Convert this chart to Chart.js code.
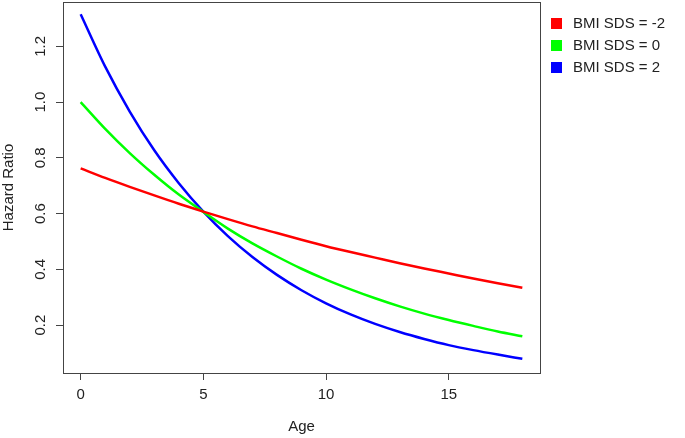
<!DOCTYPE html>
<html>
<head>
<meta charset="utf-8">
<script src="https://cdn.jsdelivr.net/npm/chart.js@4.4.0/dist/chart.umd.min.js"></script>
<style>
  html, body { margin: 0; padding: 0; background: #fff; }
  #wrap { position: relative; width: 685px; height: 438px; }
  #legend { position: absolute; left: 551px; top: 14px; font: 15px "Liberation Sans", Arial, sans-serif; color: #222; }
  #legend div { height: 22px; line-height: 18px; white-space: nowrap; }
  #legend span { display: inline-block; width: 11px; height: 11px; margin-right: 11px; vertical-align: -1px; }
</style>
</head>
<body>
<div id="wrap">
  <canvas id="chart" width="685" height="438"></canvas>
  <div id="legend"></div>
</div>
<script>
// values, one per year of age
const AGES = [0, 1, 2, 3, 4, 5, 6, 7, 8, 9, 10, 11, 12, 13, 14, 15, 16, 17, 18];
const HR_SDS_NEG2 = [0.762, 0.728, 0.696, 0.665, 0.635, 0.607, 0.580, 0.554, 0.530, 0.506, 0.483, 0.462, 0.442, 0.422, 0.403, 0.385, 0.367, 0.350, 0.334];
const HR_SDS_0 = [1.000, 0.904, 0.817, 0.739, 0.668, 0.606, 0.546, 0.493, 0.446, 0.402, 0.363, 0.328, 0.296, 0.267, 0.241, 0.218, 0.197, 0.177, 0.160];
const HR_SDS_2 = [1.315, 1.127, 0.966, 0.827, 0.709, 0.607, 0.519, 0.444, 0.380, 0.325, 0.278, 0.238, 0.204, 0.175, 0.150, 0.128, 0.110, 0.094, 0.079];
const SERIES_LABELS = ['BMI SDS = -2', 'BMI SDS = 0', 'BMI SDS = 2'];
const SERIES_COLORS = ['#ff0000', '#00ff00', '#0000ff'];
const X_TICKS = [0, 5, 10, 15];
const Y_TICKS = [0.2, 0.4, 0.6, 0.8, 1.0, 1.2];

const FONT = { family: '"Liberation Sans", Arial, sans-serif', size: 15 };
const AXIS = '#444';
const TEXT = '#222';

const datasets = [HR_SDS_NEG2, HR_SDS_0, HR_SDS_2].map((vals, i) => ({
  label: SERIES_LABELS[i],
  data: AGES.map((a, j) => ({ x: a, y: vals[j] })),
  borderColor: SERIES_COLORS[i],
  backgroundColor: SERIES_COLORS[i],
  borderWidth: 2.5,
  pointRadius: 0,
  cubicInterpolationMode: 'monotone',
  fill: false,
}));

// R draws a full box around the plot region
const boxPlugin = {
  id: 'box',
  afterDraw(chart) {
    const { ctx, chartArea: a } = chart;
    ctx.save();
    ctx.strokeStyle = AXIS;
    ctx.lineWidth = 1;
    ctx.strokeRect(a.left + 0.5, a.top + 0.5, a.right - a.left, a.bottom - a.top);
    ctx.restore();
  },
};

// drop the extra room Chart.js keeps for end labels, so the plot box sits where R puts it
function noLabelPadding(s) {
  s.paddingTop = 0;
  s.paddingBottom = 0;
  s.paddingLeft = 0;
  s.paddingRight = 0;
}

new Chart(document.getElementById('chart'), {
  type: 'line',
  data: { datasets },
  plugins: [boxPlugin],
  options: {
    responsive: false,
    animation: false,
    layout: { padding: { top: 2, right: 145, left: 0, bottom: 0 } },
    plugins: { legend: { display: false }, tooltip: { enabled: false } },
    scales: {
      x: {
        type: 'linear',
        min: -0.72,
        max: 18.72,
        afterBuildTicks: (s) => { s.ticks = X_TICKS.map((v) => ({ value: v })); },
        afterFit: (s) => { s.height = 65; noLabelPadding(s); },
        ticks: { color: TEXT, font: FONT, padding: 6, maxRotation: 0 },
        grid: { drawOnChartArea: false, color: AXIS, tickLength: 7 },
        border: { color: AXIS },
        title: { display: true, text: 'Age', color: TEXT, font: FONT, padding: { top: 0, bottom: 2 } },
      },
      y: {
        type: 'linear',
        min: 0.028,
        max: 1.359,
        afterBuildTicks: (s) => { s.ticks = Y_TICKS.map((v) => ({ value: v })); },
        afterFit: (s) => { s.width = 63; noLabelPadding(s); },
        ticks: {
          color: TEXT, font: FONT, padding: 5, minRotation: 90, maxRotation: 90, crossAlign: 'center',
          callback: (v) => v.toFixed(1),
        },
        grid: { drawOnChartArea: false, color: AXIS, tickLength: 7 },
        border: { color: AXIS },
        title: { display: true, text: 'Hazard Ratio', color: TEXT, font: FONT, padding: { top: 0, bottom: 0 } },
      },
    },
  },
});

const legend = document.getElementById('legend');
SERIES_LABELS.forEach((lab, i) => {
  const row = document.createElement('div');
  const sw = document.createElement('span');
  sw.style.background = SERIES_COLORS[i];
  row.appendChild(sw);
  row.appendChild(document.createTextNode(lab));
  legend.appendChild(row);
});
</script>
</body>
</html>
